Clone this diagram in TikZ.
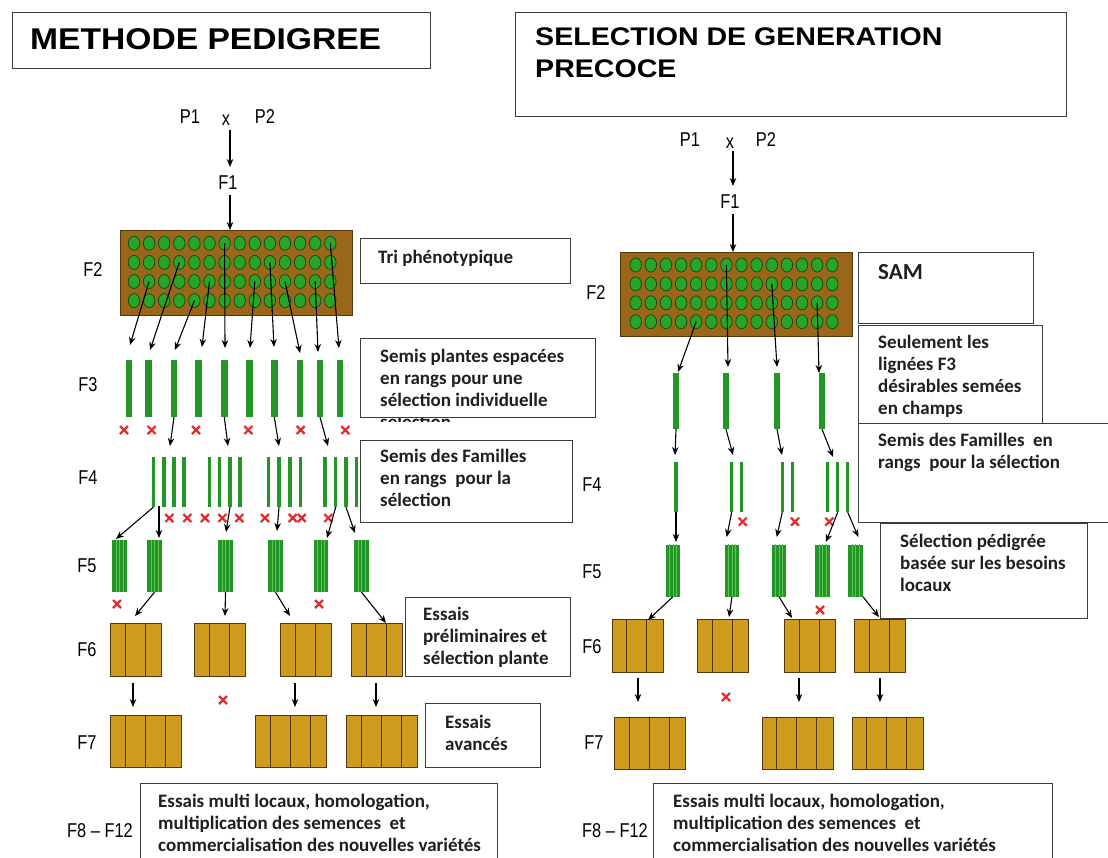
\documentclass[tikz,border=0pt]{standalone}
\usepackage{fontspec}
\setmainfont{Carlito}
\newfontfamily\arialf{Liberation Sans}
\newfontfamily\widef[FakeStretch=1.12]{Liberation Sans}
\newfontfamily\narrowf[FakeStretch=0.82]{Liberation Sans}
\usetikzlibrary{arrows.meta,calc,shapes.geometric}
\definecolor{brownF}{RGB}{153,102,26}
\definecolor{brownD}{RGB}{85,55,15}
\definecolor{dotG}{RGB}{40,165,40}
\definecolor{dotD}{RGB}{20,80,20}
\definecolor{lineG}{RGB}{35,150,40}
\definecolor{lightG}{RGB}{95,195,85}
\definecolor{goldF}{RGB}{208,156,30}
\definecolor{crossR}{RGB}{225,45,45}
\definecolor{boxD}{RGB}{60,60,60}
\tikzset{
  arr/.style={draw=black, line width=1.1pt, -{Stealth[length=8pt,width=6.5pt]}},
  dot/.style={ellipse, draw=dotD, fill=dotG, line width=0.8pt, minimum width=11.5pt, minimum height=14pt, inner sep=0pt},
  fbox/.style={draw=brownD, fill=brownF, line width=1pt, inner sep=0pt},
  gline/.style={fill=lineG, draw=none, inner sep=0pt, minimum width=6.5pt},
  tline/.style={fill=lineG, draw=none, inner sep=0pt, minimum width=3.5pt, minimum height=50pt},
  fblock/.style={fill=lineG, draw=none, inner sep=0pt, minimum width=14.5pt, minimum height=52pt},
  gold/.style={draw=brownD, fill=goldF, line width=1pt, inner sep=0pt, anchor=north west},
  tbox/.style={draw=boxD, fill=white, line width=1.1pt, inner sep=0pt, anchor=north west},
  btxt/.style={font=\bfseries\fontsize{19}{22}\selectfont, anchor=base west, inner sep=0pt, align=left, text=black!88},
  flab/.style={font=\narrowf\fontsize{20}{24}\selectfont, inner sep=0pt},
  ttl/.style={font=\widef\bfseries\fontsize{30}{32}\selectfont, anchor=base west, inner sep=0pt, align=left},
  redx/.pic={\draw[crossR, line width=2.2pt] (-4,-4)--(4,4) (-4,4)--(4,-4);}
}
\newcommand\sixblk[3]{\node[gold, minimum width=51pt, minimum height=53pt] (#1) at (#2,#3) {};
  \foreach \d in {15,35} \draw[brownD, line width=1pt] ($(#1.north west)+(\d,0)$) -- ($(#1.south west)+(\d,0)$);}
\newcommand\sevblk[3]{\node[gold, minimum width=71pt, minimum height=52pt] (#1) at (#2,#3) {};
  \foreach \d in {15,35,55} \draw[brownD, line width=1pt] ($(#1.north west)+(\d,0)$) -- ($(#1.south west)+(\d,0)$);}
\newcommand\fiveblk[3]{\node[fblock] (#1) at (#2,#3) {};
  \foreach \d in {-3.6,0,3.6} \draw[lightG, line width=0.5pt] ($(#1.north)+(\d,0)$) -- ($(#1.south)+(\d,0)$);}
\begin{document}
\begin{tikzpicture}[x=1pt,y=-1pt]
\useasboundingbox (0,0) rectangle (1108,857);
\fill[white] (0,0) rectangle (1108,857);

% ---------------- titles
\node[tbox, minimum width=418pt, minimum height=56pt] (Tl) at (12,12) {};
\node[ttl] (TlT) at (30,49) {METHODE PEDIGREE};
\node[tbox, minimum width=551pt, minimum height=104pt] (Tr) at (515,12) {};
\node[ttl, font=\widef\bfseries\fontsize{25.5}{32}\selectfont] (TrT) at (535,77) {SELECTION DE GENERATION\\PRECOCE};

% ================= LEFT: METHODE PEDIGREE
\node[flab] (LP1) at (190,117) {P1};
\node[flab] (Lx) at (226,120) {x};
\node[flab] (LP2) at (265,117) {P2};
\node[flab] (LF1) at (228,183) {F1};
\coordinate (LxS) at (230,130);
\coordinate (LF1N) at (230,167);
\draw[arr] (LxS) -- (LF1N);
\node[fbox, anchor=north west, minimum width=232pt, minimum height=85pt] (LF2box) at (120,230) {};
\coordinate (LF1S) at (230,195);
\draw[arr] (LF1S) -- (LF1S |- LF2box.north);
\foreach \c in {1,...,14} \foreach \r in {1,...,4}
  \node[dot] (Ld-\c-\r) at ({134+15.1*(\c-1)},{243.3+19.1*(\r-1)}) {};

\node[flab] (LlF2) at (93,270) {F2};
\node[flab] (LlF3) at (88,385) {F3};
\node[flab] (LlF4) at (88,478) {F4};
\node[flab] (LlF5) at (87,566) {F5};
\node[flab] (LlF6) at (87,650) {F6};
\node[flab] (LlF7) at (87,743) {F7};
\node[flab, anchor=east] (LlF8) at (133,831) {F8 – F12};

% F3 lines
\foreach \x [count=\i] in {129,148.3,174,198.3,224.3,249.3,274.3,300,320,340}
  \node[gline, minimum height=57pt] (L3-\i) at (\x,388.5) {};
% F2 -> F3 arrows
\foreach \c/\r/\ex/\ey [count=\i] in {2/3/130/345, 4/2/150/350, 5/4/175/350, 6/3/202/347, 7/1/225/348, 9/3/250/348, 10/2/274/347, 11/3/300/353, 13/3/318/352, 14/1/339/348}
  {\coordinate (La-\i) at (\ex,\ey); \draw[arr] (Ld-\c-\r.center) -- (La-\i);}
% crosses under F3
\foreach \x in {124,151.7,196,248.3,300.7,345.3} \pic at (\x,430) {redx};

% F4 groups
\foreach \g/\xs in {1/{153.3,164,174,184}, 2/{209.3,219.3,230,240}, 3/{268.3,279,290,300.7}, 4/{325,335.7,346,356.7}}
  \foreach \x [count=\k] in \xs \node[tline] (L4-\g-\k) at (\x,482) {};
% F3 -> F4
\foreach \s/\ex in {3/170, 5/228, 7/279, 9/328}
  {\coordinate (Lb-\s) at (\ex,446); \draw[arr] (L3-\s.south) -- (Lb-\s);}
\foreach \x in {169.3,187.3,205,222.3,239.3,265,292.7,301.7,328.3} \pic at (\x,518) {redx};

% F5 blocks
\foreach \x [count=\i] in {119.5,154.5,225.5,275.5,321,361.5} {\fiveblk{L5-\i}{\x}{566}}
% F4 -> F5
\coordinate (Lc-1) at (116,539);
\draw[arr] (L4-1-1.south) -- (Lc-1);
\coordinate (Lc-2s) at (159,506);
\coordinate (Lc-2) at (159,538);
\draw[arr] (Lc-2s) -- (Lc-2);
\coordinate (Lc-3) at (226,532);
\draw[arr] (L4-2-3.south) -- (Lc-3);
\coordinate (Lc-4) at (277,531);
\draw[arr] (L4-3-2.south) -- (Lc-4);
\coordinate (Lc-5) at (327,538);
\draw[arr] (L4-4-2.south) -- (Lc-5);
\coordinate (Lc-6) at (355,533);
\draw[arr] (L4-4-3.south) -- (Lc-6);
\foreach \x in {117,319} \pic at (\x,604) {redx};

% F6 blocks
\sixblk{L6-1}{110}{623}
\sixblk{L6-2}{194}{623}
\sixblk{L6-3}{280}{623}
\sixblk{L6-4}{351}{623}
% F5 -> F6
\coordinate (Ld-a) at (135,616); \draw[arr] (L5-2.south) -- (Ld-a);
\coordinate (Ld-b) at (225,616); \draw[arr] (L5-3.south) -- (Ld-b);
\coordinate (Ld-c) at (290,616); \draw[arr] (L5-4.south) -- (Ld-c);
\coordinate (Ld-d) at (386,623); \draw[arr] (L5-6.south) -- (Ld-d);

% F7 blocks
\sevblk{L7-1}{110}{715}
\sevblk{L7-2}{255}{715}
\sevblk{L7-3}{346}{715}
% F6 -> F7
\foreach \x in {133,295,376}
  {\coordinate (Le-\x) at (\x,683); \coordinate (Lf-\x) at (\x,707); \draw[arr] (Le-\x) -- (Lf-\x);}
\pic at (223,700) {redx};

% left text boxes
\node[tbox, minimum width=210pt, minimum height=45pt] (LB1) at (360,238) {};
\node[btxt] (LB1t) at (378,263) {Tri phénotypique};
\begin{scope}
  \clip (360,417.5) rectangle (600,421.5);
  \node[btxt] (LB2x) at (380,428.5) {sélection};
\end{scope}
\node[tbox, minimum width=235pt, minimum height=79pt] (LB2) at (360,338) {};
\node[btxt] (LB2t) at (380,406.5) {Semis plantes espacées\\en rangs pour une\\sélection individuelle};
\node[tbox, minimum width=212pt, minimum height=82pt] (LB3) at (360,440) {};
\node[btxt] (LB3t) at (380,506.5) {Semis des Familles\\en rangs~ pour la\\sélection};
\node[tbox, minimum width=165pt, minimum height=79pt] (LB4) at (405,597) {};
\node[btxt] (LB4t) at (423,664) {Essais\\préliminaires et\\sélection plante};
\node[tbox, minimum width=115pt, minimum height=64pt] (LB5) at (425,703) {};
\node[btxt] (LB5t) at (445,750) {Essais\\avancés};
\node[tbox, minimum width=357pt, minimum height=100pt] (LB6) at (140,783) {};
\node[btxt] (LB6t) at (158,851.5) {Essais multi locaux, homologation,\\multiplication des semences~ et\\commercialisation des nouvelles variétés};

% ================= RIGHT: SELECTION DE GENERATION PRECOCE
\node[flab] (RP1) at (690,140) {P1};
\node[flab] (Rx) at (730,143) {x};
\node[flab] (RP2) at (766,140) {P2};
\node[flab] (RF1) at (730,202) {F1};
\coordinate (RxS) at (733,151);
\coordinate (RF1N) at (733,186);
\draw[arr] (RxS) -- (RF1N);
\node[fbox, anchor=north west, minimum width=232pt, minimum height=84pt] (RF2box) at (620,252) {};
\coordinate (RF1S) at (733,214);
\draw[arr] (RF1S) -- (RF1S |- RF2box.north);
\foreach \c in {1,...,14} \foreach \r in {1,...,4}
  \node[dot] (Rd-\c-\r) at ({635.7+15.12*(\c-1)},{265+18.9*(\r-1)}) {};

\node[flab] (RlF2) at (596,293) {F2};
\node[flab] (RlF4) at (592,485) {F4};
\node[flab] (RlF5) at (592,572) {F5};
\node[flab] (RlF6) at (592,647) {F6};
\node[flab] (RlF7) at (594,743) {F7};
\node[flab, anchor=east] (RlF8) at (648,831) {F8 – F12};

% F3
\foreach \x [count=\i] in {676,726,777,822}
  \node[gline, minimum height=56pt] (R3-\i) at (\x,401) {};
\foreach \c/\r/\ex/\ey [count=\i] in {5/4/678/372, 7/1/728/367, 10/2/777/367, 13/3/819/373}
  {\coordinate (Ra-\i) at (\ex,\ey); \draw[arr] (Rd-\c-\r.center) -- (Ra-\i);}

% F4
\foreach \g/\xs in {1/{676}, 2/{731.7,741.7}, 3/{782.3,792.3}, 4/{827.7,837.7,847.7}}
  \foreach \x [count=\k] in \xs \node[tline] (R4-\g-\k) at (\x,487) {};
\foreach \s/\ex/\ey in {1/675/455, 2/733/455, 3/782/455, 4/833/457}
  {\coordinate (Rb-\s) at (\ex,\ey); \draw[arr] (R3-\s.south) -- (Rb-\s);}
\foreach \x in {742.7,795,829.3} \pic at (\x,521.7) {redx};

% F5
\foreach \x [count=\i] in {673,732,779,822.5,855.5} {\fiveblk{R5-\i}{\x}{570.5}}
\coordinate (Rc-1) at (676,542); \draw[arr] (R4-1-1.south) -- (Rc-1);
\coordinate (Rc-2) at (726.7,537); \draw[arr] (R4-2-1.south) -- (Rc-2);
\coordinate (Rc-3) at (776.7,537); \draw[arr] (R4-3-1.south) -- (Rc-3);
\coordinate (Rc-4) at (826,542); \draw[arr] (R4-4-2.south) -- (Rc-4);
\coordinate (Rc-5) at (858.3,537); \draw[arr] (R4-4-3.south) -- (Rc-5);
\pic at (820,610) {redx};

% F6
\sixblk{R6-1}{611.7}{619.3}
\sixblk{R6-2}{697.3}{619.3}
\sixblk{R6-3}{784}{619.3}
\sixblk{R6-4}{854}{619.3}
\coordinate (Rd-a) at (648,620); \draw[arr] (R5-1.south) -- (Rd-a);
\coordinate (Rd-b) at (729,617); \draw[arr] (R5-2.south) -- (Rd-b);
\coordinate (Rd-c) at (792,618); \draw[arr] (R5-3.south) -- (Rd-c);
\coordinate (Rd-d) at (879,617); \draw[arr] (R5-5.south east) -- (Rd-d);

% F7
\sevblk{R7-1}{614}{716.7}
\sevblk{R7-2}{761.7}{716.7}
\sevblk{R7-3}{851.7}{716.7}
\foreach \x in {638,799,880}
  {\coordinate (Re-\x) at (\x,678); \coordinate (Rf-\x) at (\x,702); \draw[arr] (Re-\x) -- (Rf-\x);}
\pic at (726,697) {redx};

% right text boxes
\node[tbox, minimum width=175pt, minimum height=71pt] (RB1) at (858,252) {};
\node[btxt, font=\bfseries\fontsize{23}{26}\selectfont] (RB1t) at (878,279) {SAM};
\node[tbox, minimum width=184pt, minimum height=98pt] (RB2) at (858,325) {};
\node[btxt] (RB2t) at (878,414.5) {Seulement les\\lignées F3\\désirables semées\\en champs};
\node[tbox, minimum width=257pt, minimum height=99pt] (RB3) at (858,423) {};
\node[btxt] (RB3t) at (878,468.5) {Semis des Familles~ en\\rangs~ pour la sélection};
\node[tbox, minimum width=207pt, minimum height=95pt] (RB4) at (880,523) {};
\node[btxt] (RB4t) at (900,591.5) {Sélection pédigrée\\basée sur les besoins\\locaux};
\node[tbox, minimum width=399pt, minimum height=100pt] (RB5) at (653,783) {};
\node[btxt] (RB5t) at (673,851.5) {Essais multi locaux, homologation,\\multiplication des semences~ et\\commercialisation des nouvelles variétés};
\end{tikzpicture}
\end{document}
